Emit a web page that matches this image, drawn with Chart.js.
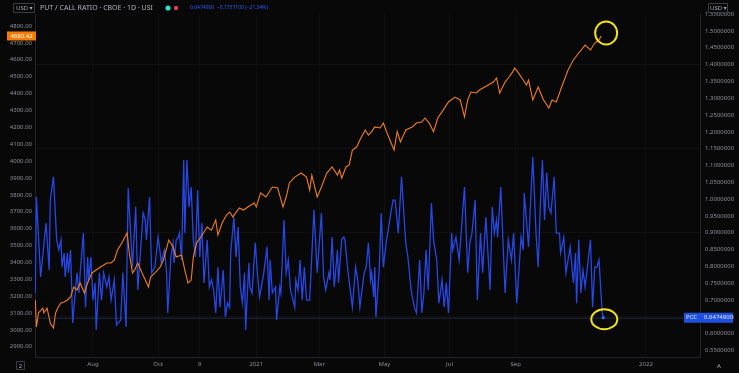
<!DOCTYPE html>
<html>
<head>
<meta charset="utf-8">
<script src="https://cdn.jsdelivr.net/npm/chart.js@4"></script>
<style>
  html, body { margin: 0; padding: 0; background: #080808; }
  #wrap { width: 739px; height: 373px; }
</style>
</head>
<body>
<div id="wrap"><canvas id="chart-1" width="739" height="373"></canvas></div>
<script>
// ---------------------------- data ----------------------------------------
// x values are days counted from 2020-08-01

const xTickDays   = [0, 61, 100, 153, 212, 273, 334, 396, 518];
const xTickLabels = ['Aug', 'Oct', '9', '2021', 'Mar', 'May', 'Jul', 'Sep', '2022'];

const leftTicks  = [2900, 3000, 3100, 3200, 3300, 3400, 3500, 3600, 3700, 3800, 3900,
                    4000, 4100, 4200, 4300, 4400, 4500, 4600, 4700, 4800];
const rightTicks = [0.55, 0.60, 0.65, 0.70, 0.75, 0.80, 0.85, 0.90, 0.95, 1.00, 1.05,
                    1.10, 1.15, 1.20, 1.25, 1.30, 1.35, 1.40, 1.45, 1.50, 1.55];

// S&P 500 (orange, left scale)
const spxDays = [-54, -53, -51, -47, -46, -43, -40, -37, -35, -33, -30, -27, -24, -21, -18, -15, -12, -8, -5, -1,
  3, 7, 13, 17, 20, 23, 27, 32, 34, 37, 39, 42, 46, 52, 54, 58, 63, 66, 71, 75,
  78, 83, 86, 89, 92, 94, 97, 101, 107, 111, 115, 117, 121, 125, 128, 131, 137, 141, 145, 151,
  153, 157, 162, 168, 173, 178, 181, 184, 189, 195, 200, 203, 205, 210, 214, 219, 224, 229, 231, 233,
  237, 240, 243, 247, 250, 255, 258, 261, 264, 269, 272, 275, 282, 285, 288, 293, 299, 303, 308, 311,
  315, 319, 323, 328, 333, 339, 344, 348, 351, 354, 359, 362, 367, 375, 378, 381, 386, 389, 393, 395,
  398, 403, 406, 408, 412, 417, 422, 424, 427, 430, 434, 439, 445, 450, 455, 461, 466, 470, 474, 476];
const spxValues = [3177, 3017, 3100, 3129, 3100, 3129, 3041, 3011, 3100, 3129, 3159, 3165, 3177, 3195, 3254, 3236, 3278, 3218, 3278, 3337,
  3355, 3372, 3396, 3396, 3414, 3473, 3514, 3574, 3455, 3337, 3355, 3396, 3337, 3254, 3313, 3337, 3372, 3414, 3532, 3491,
  3432, 3443, 3355, 3278, 3295, 3432, 3514, 3550, 3609, 3591, 3651, 3562, 3633, 3680, 3698, 3669, 3722, 3710, 3728, 3751,
  3728, 3811, 3787, 3846, 3840, 3728, 3787, 3870, 3905, 3929, 3905, 3828, 3917, 3787, 3846, 3929, 3965, 3917, 3947, 3899,
  3965, 3977, 4065, 4083, 4125, 4184, 4154, 4174, 4202, 4196, 4225, 4174, 4065, 4174, 4113, 4184, 4202, 4225, 4231, 4255,
  4225, 4174, 4255, 4302, 4350, 4379, 4362, 4261, 4362, 4409, 4403, 4421, 4439, 4468, 4492, 4403, 4468, 4492, 4527, 4551,
  4527, 4480, 4450, 4480, 4362, 4439, 4362, 4344, 4314, 4362, 4350, 4439, 4539, 4599, 4640, 4687, 4658, 4699, 4717, 4741];

// CBOE put / call ratio (blue, right scale)
const pcDays = [-54, -53, -49, -44, -41, -40, -37, -34, -32, -30, -29, -27, -26, -24, -23, -21, -19, -15, -13, -12,
  -9, -7, -5, -4, -2, 0, 2, 3, 6, 8, 10, 13, 15, 17, 20, 22, 26, 28, 31, 33,
  37, 40, 42, 47, 49, 50, 53, 55, 58, 61, 63, 64, 66, 67, 69, 70, 73, 75, 76, 78,
  80, 81, 83, 85, 86, 88, 90, 92, 94, 96, 98, 100, 102, 104, 107, 109, 111, 113, 115, 117,
  119, 122, 124, 126, 128, 129, 132, 134, 136, 138, 140, 142, 143, 146, 147, 149, 152, 154, 156, 160,
  163, 165, 166, 168, 171, 172, 175, 176, 179, 181, 183, 185, 189, 190, 192, 194, 196, 198, 200, 203,
  207, 210, 214, 216, 218, 221, 222, 224, 226, 229, 230, 233, 235, 236, 239, 243, 246, 248, 250, 254,
  256, 258, 260, 261, 263, 264, 265, 268, 270, 272, 275, 281, 283, 286, 289, 293, 295, 298, 301, 303,
  306, 308, 310, 312, 314, 317, 319, 322, 324, 327, 329, 331, 333, 336, 337, 340, 343, 348, 351, 353,
  355, 358, 360, 363, 365, 368, 372, 374, 376, 378, 379, 382, 386, 389, 392, 394, 397, 401, 403, 404,
  406, 408, 410, 412, 415, 417, 419, 421, 423, 425, 427, 429, 432, 434, 437, 438, 441, 443, 447, 450,
  452, 453, 455, 457, 459, 461, 466, 468, 470, 472, 474, 477, 478];
const pcValues = [0.721, 1.006, 0.769, 0.929, 0.789, 0.997, 1.066, 0.879, 0.849, 0.879, 0.798, 0.840, 0.769, 0.840, 0.781, 0.849, 0.632, 0.781, 0.721, 0.781,
  0.899, 0.679, 0.828, 0.760, 0.828, 0.700, 0.751, 0.611, 0.781, 0.700, 0.781, 0.739, 0.769, 0.700, 0.760, 0.626, 0.641, 0.781, 0.620, 1.033,
  0.798, 0.977, 0.730, 0.959, 0.938, 0.879, 1.006, 0.781, 0.798, 0.887, 0.840, 0.810, 0.840, 0.849, 0.781, 0.662, 0.828, 0.870, 0.810, 0.879,
  0.887, 0.899, 0.819, 1.116, 0.899, 1.116, 0.977, 1.036, 0.879, 0.828, 1.027, 0.828, 0.929, 0.751, 0.879, 0.739, 0.760, 0.730, 0.662, 0.798,
  0.679, 0.789, 0.650, 0.691, 0.679, 0.840, 0.947, 0.828, 0.917, 0.739, 0.691, 0.781, 0.611, 0.810, 0.739, 0.721, 0.870, 0.781, 0.709, 0.781,
  0.858, 0.700, 0.819, 0.721, 0.739, 0.641, 0.739, 0.721, 0.938, 0.781, 0.819, 0.730, 0.679, 0.760, 0.730, 0.819, 0.700, 0.798, 0.700, 0.700,
  0.968, 0.781, 0.959, 0.769, 0.730, 0.781, 0.760, 0.887, 0.739, 0.849, 0.751, 0.879, 0.887, 0.879, 0.781, 0.679, 0.798, 0.760, 0.679, 0.781,
  0.798, 0.870, 0.760, 0.781, 0.709, 0.798, 0.650, 0.781, 0.959, 0.798, 0.879, 0.997, 0.997, 0.899, 1.066, 0.870, 0.828, 0.730, 0.679, 0.662,
  0.819, 0.662, 0.721, 0.849, 0.730, 0.988, 0.879, 0.819, 0.691, 0.760, 0.679, 0.751, 0.662, 0.899, 0.849, 0.887, 0.819, 1.036, 0.781, 0.870,
  0.899, 0.997, 0.700, 0.899, 0.781, 0.947, 0.730, 0.977, 0.899, 0.938, 0.887, 1.036, 0.721, 0.879, 0.819, 0.899, 0.691, 0.887, 0.849, 1.018,
  0.938, 0.858, 0.997, 1.125, 0.899, 0.798, 0.977, 1.116, 0.938, 1.078, 0.977, 0.959, 1.066, 0.899, 0.899, 0.840, 0.887, 0.781, 0.858, 0.751,
  0.840, 0.691, 0.879, 0.721, 0.789, 0.739, 0.879, 0.679, 0.798, 0.798, 0.819, 0.662, 0.6475];

const spxLast = '4680.42';
const pcLast = '0.6474900';
const headerTitle = 'PUT / CALL RATIO · CBOE · 1D · USI';
const headerValues = '0.6474900  −0.1757100 (−21.34%)';

// ---------------------------- overlay -------------------------------------

const FONT = '"Noto Sans", "DejaVu Sans", sans-serif';

function box(ctx, x, y, w, h, fill, stroke) {
  ctx.beginPath();
  ctx.rect(x, y, w, h);
  if (fill) { ctx.fillStyle = fill; ctx.fill(); }
  if (stroke) { ctx.strokeStyle = stroke; ctx.lineWidth = 1; ctx.stroke(); }
}

const overlay = {
  id: 'overlay',
  beforeDraw(chart) {
    const c = chart.ctx;
    c.save();
    c.fillStyle = '#080808';
    c.fillRect(0, 0, chart.width, chart.height);
    c.restore();
  },
  afterDatasetsDraw(chart) {
    const c = chart.ctx;
    const a = chart.chartArea;
    const yL = chart.scales.yL, yR = chart.scales.yR, x = chart.scales.x;
    c.save();

    // price line of the ratio
    const py = yR.getPixelForValue(pcValues[pcValues.length - 1]);
    c.strokeStyle = 'rgba(60,80,140,0.45)';
    c.lineWidth = 1;
    c.beginPath(); c.moveTo(a.left, py + 0.5); c.lineTo(a.right, py + 0.5); c.stroke();

    // last point of the ratio
    const lx = x.getPixelForValue(pcDays[pcDays.length - 1]);
    c.fillStyle = '#3a66ff';
    c.beginPath(); c.arc(lx, py, 1.6, 0, Math.PI * 2); c.fill();

    // yellow circles
    const sx = x.getPixelForValue(spxDays[spxDays.length - 1]);
    const sy = yL.getPixelForValue(spxValues[spxValues.length - 1]);
    c.strokeStyle = '#f2e21a';
    c.lineWidth = 2;
    c.beginPath(); c.ellipse(sx + 5, sy - 3, 11, 11.5, 0, 0, Math.PI * 2); c.stroke();
    c.beginPath(); c.ellipse(lx + 1, py + 1.5, 13, 10, 0, 0, Math.PI * 2); c.stroke();

    // orange value box on the left scale
    box(c, 7, sy - 4.5, 29, 9, '#f57c00');
    c.fillStyle = '#ffffff';
    c.font = '6px ' + FONT;
    c.textAlign = 'center';
    c.textBaseline = 'middle';
    c.fillText(spxLast, 21.5, sy);

    // blue value box on the right scale
    box(c, 684, py - 5, 49, 10, '#1f4fe0');
    c.fillStyle = '#dfe6ff';
    c.textAlign = 'left';
    c.fillText('PCC', 686, py);
    c.fillText(pcLast, 704, py);

    // header
    c.font = '7px ' + FONT;
    c.fillStyle = '#aeb2bc';
    c.textAlign = 'left';
    c.fillText(headerTitle, 40, 8);
    c.fillStyle = '#2fe0c0';
    c.beginPath(); c.arc(168, 8, 2.6, 0, Math.PI * 2); c.fill();
    c.fillStyle = '#e23a55';
    c.beginPath(); c.arc(176, 8, 2.2, 0, Math.PI * 2); c.fill();
    c.font = '5px ' + FONT;
    c.fillStyle = '#2f5bff';
    c.fillText(headerValues, 190, 8);

    // USD boxes
    c.font = '6px ' + FONT;
    box(c, 13.5, 3.5, 21, 9, null, '#3a3d45');
    c.fillStyle = '#a8acb6';
    c.fillText('USD ▾', 16, 8);
    box(c, 708.5, 3.5, 19, 9, null, '#3a3d45');
    c.fillStyle = '#a8acb6';
    c.fillText('USD ▾', 710, 8);

    // bottom corners
    box(c, 16.5, 361.5, 8, 8, null, '#3a3d45');
    c.fillStyle = '#a8acb6';
    c.textAlign = 'center';
    c.fillText('2', 20.5, 366);
    c.fillText('A', 719, 366);

    c.restore();
  }
};

// ---------------------------- chart ---------------------------------------

const gridMarks = [0.65, 0.9, 1.15, 1.4];

const ctx = document.getElementById('chart-1');
new Chart(ctx, {
  type: 'line',
  data: {
    datasets: [
      {
        label: 'S&P 500',
        data: spxDays.map((d, i) => ({ x: d, y: spxValues[i] })),
        yAxisID: 'yL',
        borderColor: '#f07d1e',
        borderWidth: 1.1,
        pointRadius: 0,
        tension: 0,
        order: 0
      },
      {
        label: 'Put / Call ratio',
        data: pcDays.map((d, i) => ({ x: d, y: pcValues[i] })),
        yAxisID: 'yR',
        borderColor: '#2647e4',
        borderWidth: 1.3,
        pointRadius: 0,
        tension: 0,
        order: 1
      }
    ]
  },
  plugins: [overlay],
  options: {
    responsive: false,
    animation: false,
    layout: { padding: { top: 14, left: 0, right: 0, bottom: 0 } },
    plugins: {
      legend: { display: false },
      tooltip: { enabled: false }
    },
    scales: {
      x: {
        type: 'linear',
        min: -54.3,
        max: 568.6,
        afterFit: s => { s.height = 16; },
        afterBuildTicks: s => { s.ticks = xTickDays.map(v => ({ value: v })); },
        ticks: {
          autoSkip: false,
          maxRotation: 0,
          padding: 4,
          color: '#8c909a',
          font: { size: 6, family: FONT },
          callback: (v) => xTickLabels[xTickDays.indexOf(v)]
        },
        grid: { color: 'rgba(255,255,255,0.03)', drawTicks: false },
        border: { color: '#202329' }
      },
      yL: {
        position: 'left',
        min: 2839.2,
        max: 4871.1,
        afterFit: s => { s.width = 35; },
        afterBuildTicks: s => { s.ticks = leftTicks.map(v => ({ value: v })); },
        ticks: {
          autoSkip: false,
          padding: 3,
          color: '#8c909a',
          font: { size: 6, family: FONT },
          callback: v => v.toFixed(2)
        },
        grid: { display: false, drawTicks: false },
        border: { color: '#202329' }
      },
      yR: {
        position: 'right',
        min: 0.5309,
        max: 1.55,
        afterFit: s => { s.width = 39; },
        afterBuildTicks: s => { s.ticks = rightTicks.map(v => ({ value: v })); },
        ticks: {
          autoSkip: false,
          padding: 5,
          color: '#8c909a',
          font: { size: 6, family: FONT },
          callback: v => v.toFixed(7)
        },
        grid: {
          drawTicks: false,
          color: c => gridMarks.some(g => Math.abs(c.tick.value - g) < 1e-6) ? 'rgba(255,255,255,0.035)' : 'rgba(0,0,0,0)'
        },
        border: { color: '#202329' }
      }
    }
  }
});
</script>
</body>
</html>
